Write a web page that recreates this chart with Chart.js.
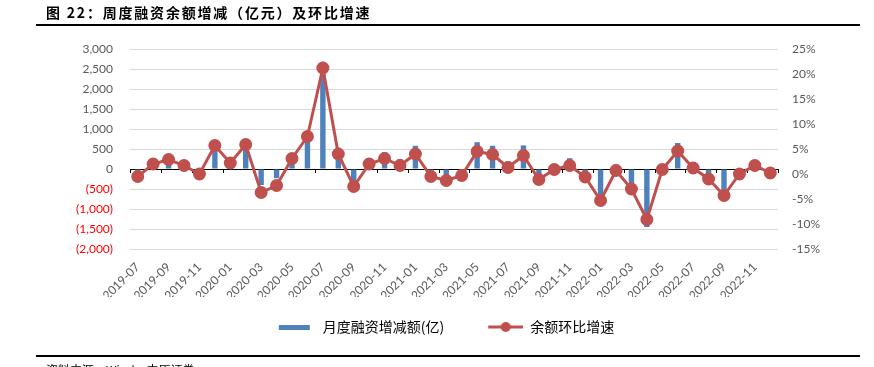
<!DOCTYPE html>
<html lang="zh-CN">
<head>
  <meta charset="UTF-8" />
  <title>周度融资余额增减及环比增速</title>
  <script src="https://cdn.jsdelivr.net/npm/chart.js"></script>
  <style>
    body {
      margin: 0;
      width: 874px;
      height: 367px;
      overflow: hidden;
      background: #fff;
      font-family: 'Noto Sans CJK SC', sans-serif;
    }
    #chart-container {
      position: absolute;
      left: 0;
      top: 0;
      width: 874px;
      height: 367px;
    }
    #title {
      position: absolute;
      left: 46px;
      top: 2px;
      font-size: 14px;
      font-weight: bold;
      letter-spacing: 1.8px;
      color: #000;
    }
    .rule {
      position: absolute;
      left: 36px;
      width: 824px;
      height: 2px;
      background: #000;
    }
    #source {
      position: absolute;
      left: 46px;
      top: 361px;
      font-size: 12px;
      color: #000;
    }
  </style>
</head>
<body>
  <div id="chart-container">
    <canvas id="mixChart"></canvas>
  </div>
  <div id="title">图 22：周度融资余额增减（亿元）及环比增速</div>
  <div class="rule" style="top:24px"></div>
  <div class="rule" style="top:355px"></div>
  <div id="source">资料来源：Wind，中原证券</div>

  <script>
    // 月份
    const months = [
      '2019-07', '2019-08', '2019-09', '2019-10', '2019-11', '2019-12',
      '2020-01', '2020-02', '2020-03', '2020-04', '2020-05', '2020-06',
      '2020-07', '2020-08', '2020-09', '2020-10', '2020-11', '2020-12',
      '2021-01', '2021-02', '2021-03', '2021-04', '2021-05', '2021-06',
      '2021-07', '2021-08', '2021-09', '2021-10', '2021-11', '2021-12',
      '2022-01', '2022-02', '2022-03', '2022-04', '2022-05', '2022-06',
      '2022-07', '2022-08', '2022-09', '2022-10', '2022-11', '2022-12'
    ];

    // 月度融资增减额（亿元）
    const financingChange = [
      -50, 30, 130, 40, -30, 500,
      100, 570, -400, -230, 220, 790,
      2450, 530, -310, 270, 420, 250,
      580, -100, -190, -80, 670, 580,
      190, 590, -140, 110, 270, -160,
      -880, 110, -440, -1450, 110, 650,
      170, -160, -560, -30, 210, 10
    ];

    // 余额环比增速（%）
    const balanceGrowth = [
      -0.5, 2.0, 2.9, 1.7, 0.0, 5.7,
      2.2, 5.9, -3.7, -2.3, 3.1, 7.5,
      21.2, 4.0, -2.5, 2.0, 3.1, 1.7,
      4.0, -0.5, -1.3, -0.3, 4.5, 3.9,
      1.3, 3.7, -1.1, 0.9, 1.7, -0.6,
      -5.3, 0.7, -3.0, -9.1, 0.9, 4.6,
      1.2, -1.0, -4.3, 0.0, 1.7, 0.2
    ];

    const BLUE = '#4F81BD';
    const RED = '#C0504D';
    const GREY = '#595959';

    // 图例小图标
    function legendIcon(kind) {
      const c = document.createElement('canvas');
      c.width = 56;
      c.height = 12;
      const g = c.getContext('2d');
      if (kind === 'bar') {
        g.fillStyle = BLUE;
        g.fillRect(19, 4, 31, 5);
      } else {
        g.strokeStyle = RED;
        g.lineWidth = 3;
        g.beginPath();
        g.moveTo(21, 6);
        g.lineTo(56, 6);
        g.stroke();
        g.fillStyle = RED;
        g.beginPath();
        g.arc(38.5, 6, 5, 0, Math.PI * 2);
        g.fill();
      }
      return c;
    }

    // 零轴上的刻度线
    const zeroTicks = {
      id: 'zeroTicks',
      beforeDatasetsDraw(chart) {
        const xs = chart.scales.x;
        const ys = chart.scales.y;
        const g = chart.ctx;
        const half = (xs.getPixelForValue(1) - xs.getPixelForValue(0)) / 2;
        const y0 = ys.getPixelForValue(0);
        g.save();
        g.strokeStyle = '#000';
        g.lineWidth = 1;
        g.beginPath();
        for (let i = 0; i <= months.length; i += 2) {
          const px = Math.round(xs.getPixelForValue(i) - half) + 0.5;
          g.moveTo(px, y0);
          g.lineTo(px, y0 + 4);
        }
        g.stroke();
        g.restore();
      }
    };

    const tickFont = { family: 'Lato', size: 12 };

    const ctx = document.getElementById('mixChart').getContext('2d');
    new Chart(ctx, {
      data: {
        labels: months,
        datasets: [
          {
            type: 'bar',
            label: '月度融资增减额(亿)',
            data: financingChange,
            backgroundColor: BLUE,
            barPercentage: 0.35,
            categoryPercentage: 1,
            yAxisID: 'y',
            order: 2
          },
          {
            type: 'line',
            label: '余额环比增速',
            data: balanceGrowth,
            borderColor: RED,
            backgroundColor: RED,
            borderWidth: 3,
            pointRadius: 5,
            pointBackgroundColor: RED,
            pointBorderColor: RED,
            tension: 0,
            yAxisID: 'y1',
            order: 1
          }
        ]
      },
      options: {
        responsive: true,
        maintainAspectRatio: false,
        animation: false,
        layout: { padding: { top: 49, bottom: 23, left: 0, right: 0 } },
        plugins: {
          tooltip: { enabled: false },
          legend: {
            position: 'bottom',
            labels: {
              usePointStyle: true,
              pointStyleWidth: 56,
              padding: 23,
              color: GREY,
              font: { family: 'Noto Sans CJK SC', size: 14 },
              generateLabels: () => [
                { text: '月度融资增减额(亿)', pointStyle: legendIcon('bar'), fillStyle: BLUE, strokeStyle: BLUE, lineWidth: 0, datasetIndex: 0 },
                { text: '余额环比增速', pointStyle: legendIcon('line'), fillStyle: RED, strokeStyle: RED, lineWidth: 0, datasetIndex: 1 }
              ]
            }
          }
        },
        scales: {
          x: {
            grid: { display: false },
            border: { display: false },
            ticks: {
              autoSkip: false,
              minRotation: 45,
              maxRotation: 45,
              color: GREY,
              font: tickFont,
              callback: (v, i) => (i % 2 === 0 ? months[i] : '')
            },
            afterFit: s => { s.height = 48; }
          },
          y: {
            position: 'left',
            min: -2000,
            max: 3000,
            border: { display: false },
            grid: {
              drawTicks: false,
              color: c => (c.tick.value === 0 ? '#000' : '#D9D9D9')
            },
            ticks: {
              stepSize: 500,
              padding: 17,
              font: tickFont,
              color: c => (c.tick.value < 0 ? '#FF0000' : GREY),
              callback: v => (v < 0
                ? '(' + Math.abs(v).toLocaleString('en-US') + ')'
                : v.toLocaleString('en-US'))
            },
            afterFit: s => { s.width = 130; }
          },
          y1: {
            position: 'right',
            min: -15,
            max: 25,
            border: { display: false },
            grid: { display: false, drawTicks: false },
            ticks: {
              stepSize: 5,
              padding: 14,
              font: tickFont,
              color: GREY,
              callback: v => v + '%'
            },
            afterFit: s => { s.width = 96; }
          }
        }
      },
      plugins: [zeroTicks]
    });
  </script>
</body>
</html>
